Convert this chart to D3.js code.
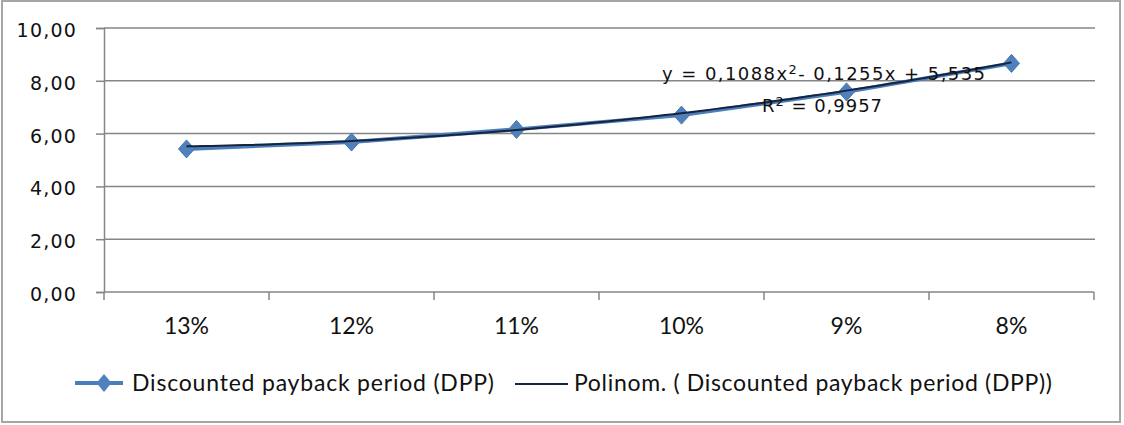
<!DOCTYPE html>
<html>
<head>
<meta charset="utf-8">
<script src="https://cdn.jsdelivr.net/npm/d3@7"></script>
<style>
  body { margin: 0; background: #fff; }
  svg { display: block; }
</style>
</head>
<body>
<svg></svg>
<script>
const categories = ["13%", "12%", "11%", "10%", "9%", "8%"];
const dppValues = [5.42, 5.68, 6.16, 6.70, 7.58, 8.66];
const yTicks = [0, 2, 4, 6, 8, 10];
// trendline coefficients as printed on the chart (x = 1..6)
const trendCoef = { a: 0.1088, b: -0.1255, c: 5.535 };
const seriesName = "Discounted payback period  (DPP)";
const trendName = "Polinom. ( Discounted payback period  (DPP))";

const width = 1124, height = 425;
const margin = { top: 28, right: 30, bottom: 133, left: 104 };

const svg = d3.select("svg")
    .attr("width", width)
    .attr("height", height);

// outer frame
svg.append("rect")
    .attr("x", 2).attr("y", 1)
    .attr("width", width - 6).attr("height", height - 4)
    .attr("fill", "#fff")
    .attr("stroke", "#a6a6a6")
    .attr("stroke-width", 2);

const x = d3.scaleBand()
    .domain(categories)
    .range([margin.left, width - margin.right])
    .padding(0);

const y = d3.scaleLinear()
    .domain([0, 10])
    .range([height - margin.bottom, margin.top]);

const fmt = d => d.toFixed(2).replace(".", ",");

// gridlines
svg.append("g")
    .selectAll("line")
    .data(yTicks.filter(d => d > 0))
    .enter()
    .append("line")
    .attr("x1", margin.left)
    .attr("x2", width - margin.right + 1)
    .attr("y1", d => y(d))
    .attr("y2", d => y(d))
    .attr("stroke", "#858585")
    .attr("stroke-width", 1.5);

// y axis
const yAxis = svg.append("g")
    .attr("transform", `translate(${margin.left},0)`)
    .call(d3.axisLeft(y).tickValues(yTicks).tickFormat(fmt).tickSize(8).tickPadding(19));
yAxis.select(".domain").attr("stroke", "#868686").attr("stroke-width", 1.5);
yAxis.selectAll(".tick line").attr("stroke", "#868686").attr("stroke-width", 1.5);
yAxis.selectAll(".tick text")
    .attr("fill", "#111")
    .attr("dy", "0.45em")
    .style("font-family", "DejaVu Sans, Verdana, sans-serif")
    .style("font-size", "19px")
    .style("letter-spacing", "1.2px");

// x axis: ticks at band edges
const edges = categories.map(c => x(c)).concat([x.range()[1]]);
const xAxis = svg.append("g");
xAxis.append("line")
    .attr("x1", margin.left).attr("x2", width - margin.right)
    .attr("y1", y(0)).attr("y2", y(0))
    .attr("stroke", "#868686").attr("stroke-width", 1.5);
xAxis.selectAll(".edge")
    .data(edges)
    .enter()
    .append("line")
    .attr("class", "edge")
    .attr("x1", d => d).attr("x2", d => d)
    .attr("y1", y(0)).attr("y2", y(0) + 8)
    .attr("stroke", "#868686").attr("stroke-width", 1.5);
xAxis.selectAll(".xlabel")
    .data(categories)
    .enter()
    .append("text")
    .attr("class", "xlabel")
    .attr("x", d => x(d) + x.bandwidth() / 2)
    .attr("y", y(0) + 42)
    .attr("text-anchor", "middle")
    .attr("fill", "#111")
    .style("font-family", "Lato, sans-serif")
    .style("font-size", "23px")
    .text(d => d);

// data series
const line = d3.line()
    .x((d, i) => x(categories[i]) + x.bandwidth() / 2)
    .y(d => y(d));

svg.append("path")
    .datum(dppValues)
    .attr("d", line)
    .attr("fill", "none")
    .attr("stroke", "#4a7ebb")
    .attr("stroke-width", 4);

const diamond = (cx, cy, w, h) => `M${cx},${cy - h}L${cx + w},${cy}L${cx},${cy + h}L${cx - w},${cy}Z`;

svg.selectAll(".marker")
    .data(dppValues)
    .enter()
    .append("path")
    .attr("class", "marker")
    .attr("d", (d, i) => diamond(x(categories[i]) + x.bandwidth() / 2, y(d), 8, 9))
    .attr("fill", "#4f81bd")
    .attr("stroke", "#4a76ae")
    .attr("stroke-width", 1);

// polynomial trendline
const xt = d3.scaleLinear()
    .domain([1, categories.length])
    .range([x(categories[0]) + x.bandwidth() / 2, x(categories[categories.length - 1]) + x.bandwidth() / 2]);
const trendPts = d3.range(1, categories.length + 0.001, 0.05)
    .map(t => [t, trendCoef.a * t * t + trendCoef.b * t + trendCoef.c]);

svg.append("path")
    .datum(trendPts)
    .attr("d", d3.line().x(d => xt(d[0])).y(d => y(d[1])).curve(d3.curveMonotoneX))
    .attr("fill", "none")
    .attr("stroke", "#17243d")
    .attr("stroke-width", 2);

// equation label
const eq = svg.append("text")
    .attr("x", 662).attr("y", 80)
    .attr("fill", "#111")
    .style("font-family", "DejaVu Sans, Verdana, sans-serif")
    .style("font-size", "18px")
    .attr("textLength", 323)
    .attr("lengthAdjust", "spacing");
eq.append("tspan").text("y = 0,1088x");
eq.append("tspan").attr("dy", -6).style("font-size", "13px").text("2");
eq.append("tspan").attr("dy", 6).text("- 0,1255x + 5,535");

const r2 = svg.append("text")
    .attr("x", 762).attr("y", 112)
    .attr("fill", "#111")
    .style("font-family", "DejaVu Sans, Verdana, sans-serif")
    .style("font-size", "18px")
    .attr("textLength", 120)
    .attr("lengthAdjust", "spacing");
r2.append("tspan").text("R");
r2.append("tspan").attr("dy", -6).style("font-size", "13px").text("2");
r2.append("tspan").attr("dy", 6).text(" = 0,9957");

// legend
const legendY = 383;
const legend = svg.append("g").attr("class", "legend");
legend.append("line")
    .attr("x1", 75).attr("x2", 123)
    .attr("y1", legendY).attr("y2", legendY)
    .attr("stroke", "#4a7ebb").attr("stroke-width", 4);
legend.append("path")
    .attr("d", diamond(104, legendY, 7.5, 9))
    .attr("fill", "#4f81bd");
legend.append("text")
    .attr("x", 132).attr("y", legendY + 8)
    .attr("fill", "#111")
    .style("font-family", "Lato, sans-serif")
    .style("font-size", "23px")
    .attr("textLength", 362)
    .attr("lengthAdjust", "spacing")
    .text(seriesName);
legend.append("line")
    .attr("x1", 515).attr("x2", 568)
    .attr("y1", legendY + 1).attr("y2", legendY + 1)
    .attr("stroke", "#17243d").attr("stroke-width", 2);
legend.append("text")
    .attr("x", 574).attr("y", legendY + 8)
    .attr("fill", "#111")
    .style("font-family", "Lato, sans-serif")
    .style("font-size", "23px")
    .attr("textLength", 478)
    .attr("lengthAdjust", "spacing")
    .text(trendName);
</script>
</body>
</html>
